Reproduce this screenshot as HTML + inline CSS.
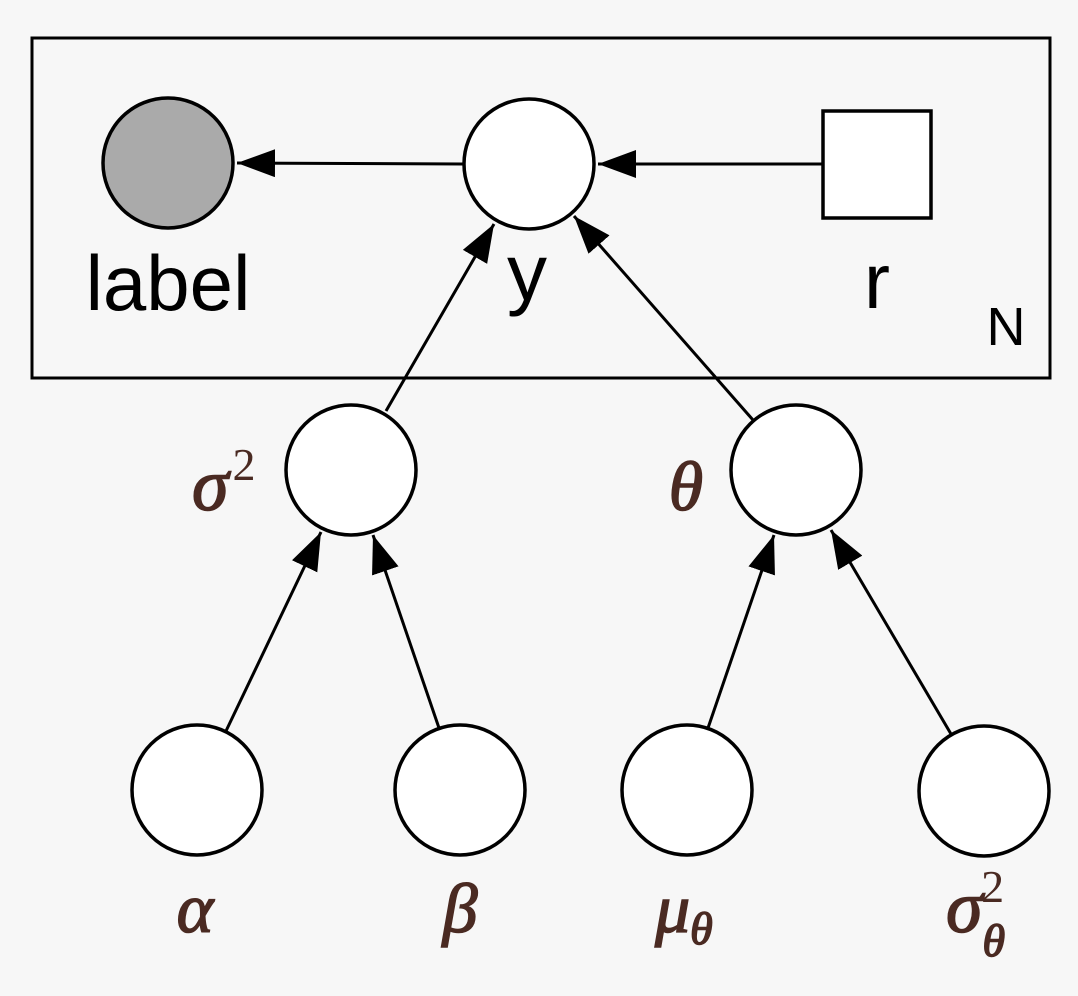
<!DOCTYPE html>
<html><head><meta charset="utf-8"><style>
html,body{margin:0;padding:0;background:#f7f7f7;}
svg{display:block}
.s{font-family:"Liberation Sans",sans-serif;fill:#000}
.g{font-family:"Liberation Serif",serif;font-style:italic;fill:#4a2a22}
</style></head><body>
<svg width="1078" height="996" viewBox="0 0 1078 996" xmlns="http://www.w3.org/2000/svg">
<defs><marker id="a" markerUnits="userSpaceOnUse" markerWidth="40" markerHeight="30" refX="38" refY="14" orient="auto"><path d="M0,0 L38,14 L0,28 z" fill="#000"/></marker></defs>
<rect x="32" y="38" width="1018" height="340" fill="none" stroke="#000" stroke-width="3"/>
<g stroke="#000" stroke-width="3.5" fill="#fff">
<circle cx="168" cy="163" r="65" fill="#aaa"/>
<circle cx="529" cy="164" r="65"/>
<rect x="823" y="111" width="108" height="107"/>
<circle cx="351" cy="470" r="65"/>
<circle cx="796" cy="470" r="65"/>
<circle cx="197" cy="790" r="65"/>
<circle cx="460" cy="790" r="65"/>
<circle cx="687" cy="790" r="65"/>
<circle cx="984" cy="791" r="65"/>
</g>
<g stroke="#000" stroke-width="3" marker-end="url(#a)">
<line x1="463" y1="164" x2="237" y2="163"/>
<line x1="823" y1="164" x2="598" y2="164"/>
<line x1="386" y1="411" x2="494" y2="224"/>
<line x1="753" y1="420" x2="574" y2="216"/>
<line x1="226" y1="731" x2="321" y2="532"/>
<line x1="439" y1="728" x2="373" y2="535"/>
<line x1="708" y1="728" x2="774" y2="535"/>
<line x1="951" y1="734" x2="831" y2="530"/>
</g>
<text class="s" x="168" y="310" font-size="78" text-anchor="middle">label</text>
<text class="s" x="527" y="300" font-size="80" text-anchor="middle">y</text>
<text class="s" x="877" y="308" font-size="78" text-anchor="middle">r</text>
<text class="s" x="1006" y="345" font-size="54" text-anchor="middle">N</text>
<text class="g" x="192" y="510" font-size="74" stroke="#4a2a22" stroke-width="1.5">σ<tspan font-style="normal" stroke-width="0" font-size="46" dx="4" dy="-30">2</tspan></text>
<text class="g" x="686" y="510" font-size="70" text-anchor="middle" stroke="#4a2a22" stroke-width="1.5">θ</text>
<text class="g" x="195" y="932" font-size="70" text-anchor="middle" stroke="#4a2a22" stroke-width="1.5">α</text>
<text class="g" x="460" y="932" font-size="70" text-anchor="middle" stroke="#4a2a22" stroke-width="1.5">β</text>
<text class="g" x="655" y="932" font-size="70" stroke="#4a2a22" stroke-width="1.5">μ<tspan font-size="46" dy="12">θ</tspan></text>
<text class="g" x="946" y="932" font-size="74" stroke="#4a2a22" stroke-width="1.5">σ<tspan font-size="46" dy="24">θ</tspan><tspan font-style="normal" stroke-width="0" font-size="46" dx="-24" dy="-54">2</tspan></text>
</svg>
</body></html>
